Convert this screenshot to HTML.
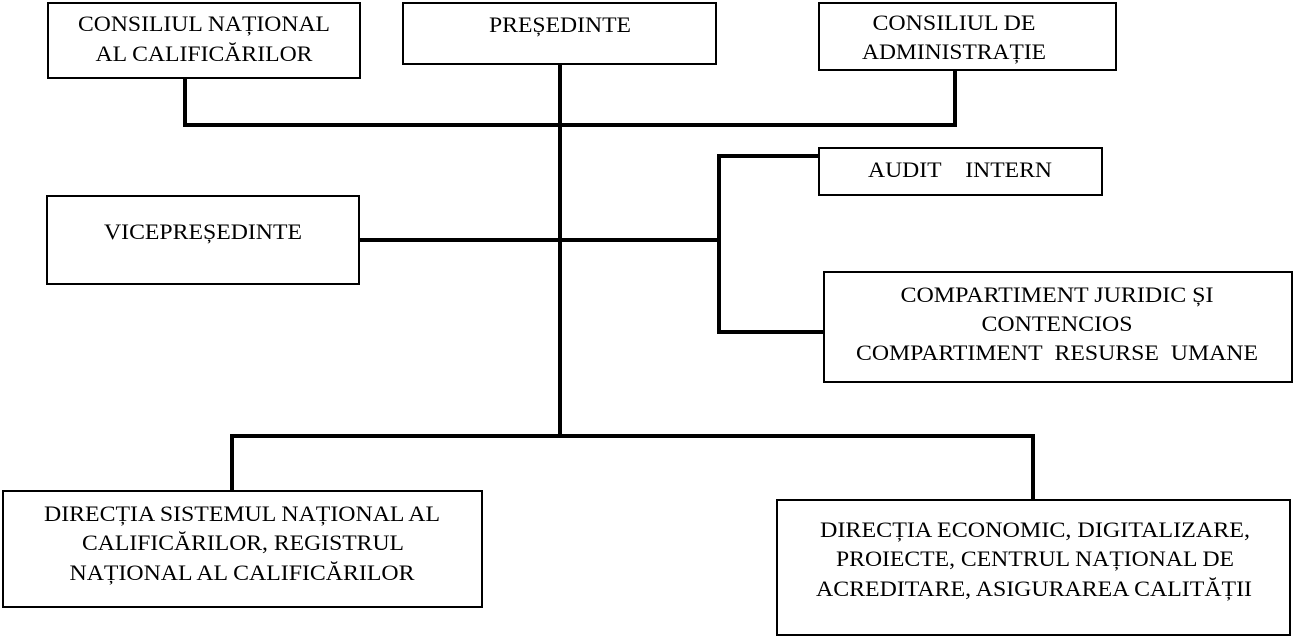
<!DOCTYPE html>
<html><head><meta charset="utf-8"><style>
html,body{margin:0;padding:0;background:#fff;width:1294px;height:638px;overflow:hidden}
svg text{font-family:"Liberation Serif",serif;font-size:22px;fill:#000;text-anchor:middle}
</style></head><body>
<svg width="1294" height="638" xmlns="http://www.w3.org/2000/svg">
<g fill="none" stroke="#000" stroke-width="2">
<rect x="48" y="3" width="312" height="75"/>
<rect x="403" y="3" width="313" height="61"/>
<rect x="819" y="3" width="297" height="67"/>
<rect x="47" y="196" width="312" height="88"/>
<rect x="819" y="148" width="283" height="47"/>
<rect x="824" y="272" width="468" height="110"/>
<rect x="3" y="491" width="479" height="116"/>
<rect x="777" y="500" width="513" height="135"/>
</g>
<g fill="none" stroke="#000" stroke-width="4">
<polyline points="185,79 185,125 955,125 955,70"/>
<line x1="560" y1="64" x2="560" y2="436"/>
<line x1="359" y1="240" x2="719" y2="240"/>
<polyline points="819,156 719,156 719,332 824,332"/>
<polyline points="232,491 232,436 1033,436 1033,500"/>
</g>
<g lengthAdjust="spacingAndGlyphs">
<text x="204" y="31" textLength="252" lengthAdjust="spacingAndGlyphs">CONSILIUL NAȚIONAL</text>
<text x="204" y="61" textLength="217" lengthAdjust="spacingAndGlyphs">AL CALIFICĂRILOR</text>
<text x="560" y="32" textLength="142" lengthAdjust="spacingAndGlyphs">PREȘEDINTE</text>
<text x="954" y="30" textLength="163" lengthAdjust="spacingAndGlyphs">CONSILIUL DE</text>
<text x="954" y="59" textLength="184" lengthAdjust="spacingAndGlyphs">ADMINISTRAȚIE</text>
<text x="203" y="239" textLength="198" lengthAdjust="spacingAndGlyphs">VICEPREȘEDINTE</text>
<text x="960" y="177" textLength="184" lengthAdjust="spacingAndGlyphs">AUDIT&#160;&#160;&#160; INTERN</text>
<text x="1057" y="302" textLength="313" lengthAdjust="spacingAndGlyphs">COMPARTIMENT JURIDIC ȘI</text>
<text x="1057" y="331" textLength="151" lengthAdjust="spacingAndGlyphs">CONTENCIOS</text>
<text x="1057" y="360" textLength="402" lengthAdjust="spacingAndGlyphs">COMPARTIMENT&#160; RESURSE&#160; UMANE</text>
<text x="242" y="521" textLength="396" lengthAdjust="spacingAndGlyphs">DIRECȚIA SISTEMUL NAȚIONAL AL</text>
<text x="243" y="550" textLength="322" lengthAdjust="spacingAndGlyphs">CALIFICĂRILOR, REGISTRUL</text>
<text x="242" y="580" textLength="345" lengthAdjust="spacingAndGlyphs">NAȚIONAL AL CALIFICĂRILOR</text>
<text x="1035" y="537" textLength="430" lengthAdjust="spacingAndGlyphs">DIRECȚIA ECONOMIC, DIGITALIZARE,</text>
<text x="1035" y="566" textLength="398" lengthAdjust="spacingAndGlyphs">PROIECTE, CENTRUL NAȚIONAL DE</text>
<text x="1034" y="596" textLength="436" lengthAdjust="spacingAndGlyphs">ACREDITARE, ASIGURAREA CALITĂȚII</text>
</g>
</svg>
</body></html>
